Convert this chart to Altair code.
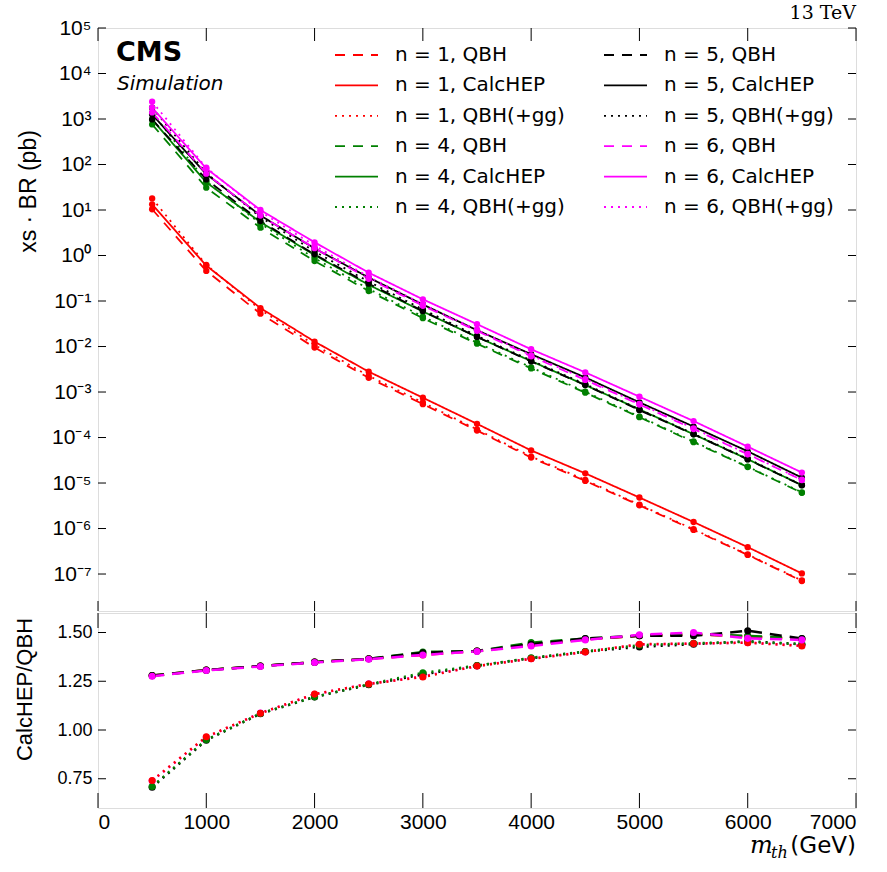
import altair as alt
import pandas as pd

# ---------------- data ----------------
masses = [500, 1000, 1500, 2000, 2500, 3000, 3500, 4000, 4500, 5000, 5500, 6000, 6500]

# CalcHEP cross sections (pb)
calchep_n1 = [13.3, 0.60, 0.070, 0.0128, 2.8e-3, 7.5e-4, 2.0e-4, 5.2e-5, 1.63e-5, 4.8e-6, 1.39e-6, 3.9e-7, 1.03e-7]
calchep_n4 = [972, 40.5, 5.44, 1.02, 0.227, 0.0588, 0.0162, 4.78e-3, 1.42e-3, 4.15e-4, 1.18e-4, 3.34e-5, 8.96e-6]
calchep_n5 = [1253, 61.4, 7.57, 1.43, 0.328, 0.0838, 0.0228, 6.77e-3, 2.09e-3, 5.93e-4, 1.74e-4, 4.98e-5, 1.31e-5]
calchep_n6 = [1780, 82.0, 10.0, 1.95, 0.42, 0.109, 0.031, 8.7e-3, 2.7e-3, 7.9e-4, 2.3e-4, 6.3e-5, 1.7e-5]

# ratio CalcHEP / QBH (dashed)
ratio_qbh_n1 = [1.279, 1.307, 1.328, 1.348, 1.365, 1.385, 1.405, 1.435, 1.465, 1.483, 1.490, 1.480, 1.465]
ratio_qbh_n4 = [1.279, 1.307, 1.328, 1.348, 1.365, 1.400, 1.405, 1.448, 1.469, 1.483, 1.490, 1.483, 1.469]
ratio_qbh_n5 = [1.279, 1.307, 1.328, 1.348, 1.365, 1.396, 1.405, 1.440, 1.469, 1.483, 1.483, 1.509, 1.469]
ratio_qbh_n6 = [1.276, 1.305, 1.326, 1.346, 1.363, 1.385, 1.403, 1.431, 1.462, 1.488, 1.500, 1.470, 1.462]
# ratio CalcHEP / QBH(+gg) (dotted)
ratio_gg_n1 = [0.741, 0.965, 1.086, 1.184, 1.236, 1.272, 1.328, 1.365, 1.400, 1.440, 1.443, 1.448, 1.431]
ratio_gg_n4 = [0.710, 0.950, 1.085, 1.170, 1.234, 1.293, 1.330, 1.370, 1.403, 1.435, 1.445, 1.452, 1.440]
ratio_gg_n5 = [0.706, 0.948, 1.083, 1.169, 1.232, 1.285, 1.330, 1.368, 1.402, 1.426, 1.440, 1.455, 1.440]
ratio_gg_n6 = [0.740, 0.963, 1.087, 1.183, 1.237, 1.275, 1.328, 1.366, 1.400, 1.438, 1.443, 1.448, 1.433]

n_values = [1, 4, 5, 6]
n_colors = ["#ff0000", "#008000", "#000000", "#ff00ff"]
types = ["QBH", "CalcHEP", "QBH(+gg)"]

x_ticks = [0, 1000, 2000, 3000, 4000, 5000, 6000, 7000]
y_ticks_top = [1e-7, 1e-6, 1e-5, 1e-4, 1e-3, 1e-2, 1e-1, 1, 10, 100, 1e3, 1e4, 1e5]
y_ticks_bot = [0.75, 1.0, 1.25, 1.5]

# ---------------- tables ----------------
calc = dict(zip(n_values, [calchep_n1, calchep_n4, calchep_n5, calchep_n6]))
rq = dict(zip(n_values, [ratio_qbh_n1, ratio_qbh_n4, ratio_qbh_n5, ratio_qbh_n6]))
rg = dict(zip(n_values, [ratio_gg_n1, ratio_gg_n4, ratio_gg_n5, ratio_gg_n6]))
col_of = dict(zip(n_values, n_colors))

rows = []
for n in n_values:
    for i, m in enumerate(masses):
        c = calc[n][i]
        vals = {"QBH": c / rq[n][i], "CalcHEP": c, "QBH(+gg)": c / rg[n][i]}
        for t in types:
            rows.append({"mass": m, "xs": vals[t], "series": f"n = {n}, {t}", "hex": col_of[n]})
df = pd.DataFrame(rows)

qrows, grows = [], []
for n in n_values:
    for i, m in enumerate(masses):
        qrows.append({"mass": m, "ratio": rq[n][i], "n": n, "hex": col_of[n]})
for n in reversed(n_values):
    for i, m in enumerate(masses):
        grows.append({"mass": m, "ratio": rg[n][i], "n": n, "hex": col_of[n]})
qdf = pd.DataFrame(qrows)
gdf = pd.DataFrame(grows)
rdf = pd.concat([gdf, qdf], ignore_index=True)

dash_of = {"QBH": [10, 8], "CalcHEP": [1, 0], "QBH(+gg)": [2, 5]}
order, c_range, d_range = [], [], []
for n in n_values:
    for t in types:
        order.append(f"n = {n}, {t}")
        c_range.append(col_of[n])
        d_range.append(dash_of[t])

W, H1, H2 = 758, 583, 195
xscale = alt.Scale(domain=[0, 7000], nice=False, zero=False)
yscale1 = alt.Scale(type="log", domain=[1.54e-8, 1e5], nice=False)
yscale2 = alt.Scale(domain=[0.6, 1.6], nice=False, zero=False)

sup = "['\u2070','\u00b9','\u00b2','\u00b3','\u2074','\u2075','\u2076','\u2077','\u2078','\u2079']"
label_expr = ("'10' + (datum.value < 0.5 ? '\u207b' : '') + " + sup +
              "[abs(round(log(datum.value)/LN10))]")

ax_top_x = alt.Axis(labels=False, ticks=False, domain=False, grid=False, title=None)
ax_top_y = alt.Axis(values=y_ticks_top, labelExpr=label_expr, ticks=False, domain=False,
                    grid=False, labelFontSize=21, labelPadding=7,
                    title="xs \u00b7 BR (pb)", titleFontSize=23, titleFontWeight="normal",
                    titleX=-58, titleY=163)
ax_bot_x = alt.Axis(values=x_ticks, format="d", ticks=False, domain=False, grid=False,
                    labelFontSize=21, labelPadding=3, title=None)
ax_bot_y = alt.Axis(values=y_ticks_bot, format=".2f", ticks=False, domain=False, grid=False,
                    labelFontSize=18, labelPadding=6,
                    title="CalcHEP/QBH", titleFontSize=22, titleFontWeight="normal",
                    titleX=-62, titleY=76)

# ---------------- top panel ----------------
lines = alt.Chart(df).mark_line(strokeWidth=1.8).encode(
    x=alt.X("mass:Q", scale=xscale, axis=ax_top_x),
    y=alt.Y("xs:Q", scale=yscale1, axis=ax_top_y),
    color=alt.Color("series:N", scale=alt.Scale(domain=order, range=c_range),
                    legend=alt.Legend(title=None, orient="none", legendX=236, legendY=12,
                                      columns=2, columnPadding=38, rowPadding=0.4, padding=0,
                                      clipHeight=30,
                                      labelFontSize=20, labelFont="DejaVu Sans", labelOffset=16,
                                      labelLimit=0, symbolType="stroke", symbolSize=1849,
                                      symbolStrokeWidth=1.8, labelColor="black")),
    strokeDash=alt.StrokeDash("series:N", scale=alt.Scale(domain=order, range=d_range)),
)
pts = alt.Chart(df).mark_circle(size=40, opacity=1).encode(
    x=alt.X("mass:Q", scale=xscale, axis=ax_top_x),
    y=alt.Y("xs:Q", scale=yscale1, axis=ax_top_y),
    color=alt.Color("hex:N", scale=None),
)

xt = pd.DataFrame({"mass": x_ticks})
yt1 = pd.DataFrame({"xs": y_ticks_top})
yt2 = pd.DataFrame({"ratio": y_ticks_bot})


def xticks(ax, h, ln_top, ln_bot):
    a = alt.Chart(xt).mark_rule(color="black").encode(
        x=alt.X("mass:Q", scale=xscale, axis=ax), y=alt.value(0), y2=alt.value(ln_top))
    b = alt.Chart(xt).mark_rule(color="black").encode(
        x=alt.X("mass:Q", scale=xscale, axis=ax), y=alt.value(h - ln_bot), y2=alt.value(h))
    return [a, b]


def yticks(data, field, yscale, ax, ln):
    a = alt.Chart(data).mark_rule(color="black").encode(
        y=alt.Y(field, scale=yscale, axis=ax), x=alt.value(0), x2=alt.value(ln))
    b = alt.Chart(data).mark_rule(color="black").encode(
        y=alt.Y(field, scale=yscale, axis=ax), x=alt.value(W - ln), x2=alt.value(W))
    return [a, b]


def label(txt, x, y, **kw):
    return alt.Chart(pd.DataFrame({"t": [txt]})).mark_text(**kw).encode(
        text="t:N", x=alt.value(x), y=alt.value(y))


cms = label("CMS", 18, 25, align="left", baseline="middle", font="DejaVu Sans",
            fontSize=27, fontWeight="bold", color="black")
sim = label("Simulation", 19, 56, align="left", baseline="middle", font="DejaVu Sans",
            fontSize=20, fontStyle="italic", color="black")
tev = label("13 TeV", W, -15, align="right", baseline="middle", font="DejaVu Serif",
            fontSize=19, color="black")

top = alt.layer(lines, pts, *xticks(ax_top_x, H1, 13, 10),
                *yticks(yt1, "xs:Q", yscale1, ax_top_y, 8),
                cms, sim, tev).properties(width=W, height=H1)

# ---------------- bottom panel ----------------
r_dash = alt.Chart(qdf).mark_line(strokeWidth=2.5, strokeDash=[12, 8]).encode(
    x=alt.X("mass:Q", scale=xscale, axis=ax_bot_x),
    y=alt.Y("ratio:Q", scale=yscale2, axis=ax_bot_y),
    color=alt.Color("hex:N", scale=None),
    detail="n:N",
)
r_dot = alt.Chart(gdf).mark_line(strokeWidth=2.5, strokeDash=[2, 5]).encode(
    x=alt.X("mass:Q", scale=xscale, axis=ax_bot_x),
    y=alt.Y("ratio:Q", scale=yscale2, axis=ax_bot_y),
    color=alt.Color("hex:N", scale=None),
    detail="n:N",
)
r_pts = alt.Chart(rdf).mark_circle(size=50, opacity=1).encode(
    x=alt.X("mass:Q", scale=xscale, axis=ax_bot_x),
    y=alt.Y("ratio:Q", scale=yscale2, axis=ax_bot_y),
    color=alt.Color("hex:N", scale=None),
)

m_lab = label("m", 652, 240, align="left", baseline="alphabetic", font="DejaVu Serif",
              fontSize=24, fontStyle="italic", color="black")
th_lab = label("th", 673, 245, align="left", baseline="alphabetic", font="DejaVu Serif",
               fontSize=16, fontStyle="italic", color="black")
gev_lab = label("(GeV)", 758, 240, align="right", baseline="alphabetic", font="DejaVu Sans",
                fontSize=23, color="black")

bottom = alt.layer(r_dash, r_dot, r_pts, *xticks(ax_bot_x, H2, 15, 15),
                   *yticks(yt2, "ratio:Q", yscale2, ax_bot_y, 8),
                   m_lab, th_lab, gev_lab).properties(width=W, height=H2)

chart = alt.vconcat(top, bottom, spacing=0).properties(
    padding={"left": 12, "top": 3, "right": 5, "bottom": 5}
).configure_view(stroke="black", strokeWidth=1.2).configure_axis(
    labelFont="DejaVu Sans", labelColor="black", titleFont="DejaVu Sans",
    titleFontWeight="normal", titleColor="black"
).configure(background="white")

chart.save("out.html", embed_options={"renderer": "svg", "actions": False})
